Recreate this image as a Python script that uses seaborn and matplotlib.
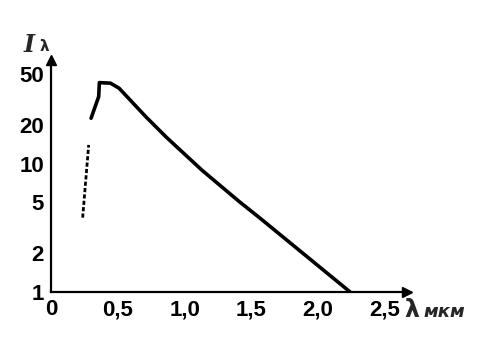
import matplotlib
matplotlib.use("Agg")
import matplotlib.pyplot as plt
import seaborn as sns
import pandas as pd

# data
main_x = [0.30, 0.357, 0.362, 0.445, 0.51, 0.71, 0.86, 1.13, 1.41, 1.56, 2.24]
main_y = [22.6, 33.3, 42.8, 42.4, 38.7, 23.2, 16.2, 8.9, 5.06, 3.8, 1.0]
dash_x = [0.237, 0.282]
dash_y = [3.8, 14.0]
x_ticks = [0, 0.5, 1.0, 1.5, 2.0, 2.5]
x_tick_labels = ["0", "0,5", "1,0", "1,5", "2,0", "2,5"]
y_ticks = [1, 2, 5, 10, 20, 50]
y_tick_labels = ["1", "2", "5", "10", "20", "50"]

sns.set_style("white")
plt.rcParams['font.family'] = ['Liberation Sans', 'DejaVu Sans']

fig = plt.figure(figsize=(5.0, 3.42), dpi=100)
ax = fig.add_axes([0.102, 0.146, 0.712, 0.678])

main_df = pd.DataFrame({"x": main_x, "y": main_y})
dash_df = pd.DataFrame({"x": dash_x, "y": dash_y})
sns.lineplot(data=main_df, x="x", y="y", sort=False, estimator=None,
             color="black", lw=2.6, ax=ax)
sns.lineplot(data=dash_df, x="x", y="y", sort=False, estimator=None,
             color="black", lw=2.0, ax=ax)
ax.lines[-1].set_dashes([1.5, 0.8])

ax.set_yscale("log")
ax.set_xlim(0, 2.665)
ax.set_ylim(1, 64)
ax.set_xticks(x_ticks)
ax.set_xticklabels(x_tick_labels)
ax.set_yticks(y_ticks)
ax.set_yticklabels(y_tick_labels)
ax.minorticks_off()
ax.set_xlabel("")
ax.set_ylabel("")
for s in ["top", "right"]:
    ax.spines[s].set_visible(False)
for s in ["left", "bottom"]:
    ax.spines[s].set_linewidth(1.6)
    ax.spines[s].set_color("black")
ax.tick_params(direction="in", length=5, width=1.2, colors="black",
               labelsize=16, pad=5)
ax.tick_params(axis="x", pad=5)
for lab in ax.get_xticklabels() + ax.get_yticklabels():
    lab.set_fontweight("bold")

# arrowheads
ax.plot(1, 0, ">", color="black", ms=7, transform=ax.transAxes, clip_on=False)
ax.plot(0, 1, "^", color="black", ms=7, transform=ax.transAxes, clip_on=False)

fig.text(0.048, 0.848, "I", fontsize=17, family="DejaVu Serif",
         style="italic", weight="bold", ha="left", va="baseline")
fig.text(0.080, 0.852, "λ", fontsize=11, family="DejaVu Sans",
         weight="bold", ha="left", va="baseline")
fig.text(0.808, 0.073, "λ", fontsize=17, family="DejaVu Sans",
         weight="bold", ha="left", va="baseline")
fig.text(0.846, 0.073, "мкм", fontsize=13, family="DejaVu Sans",
         style="italic", weight="bold", ha="left", va="baseline")

fig.savefig("out.png", dpi=100)
